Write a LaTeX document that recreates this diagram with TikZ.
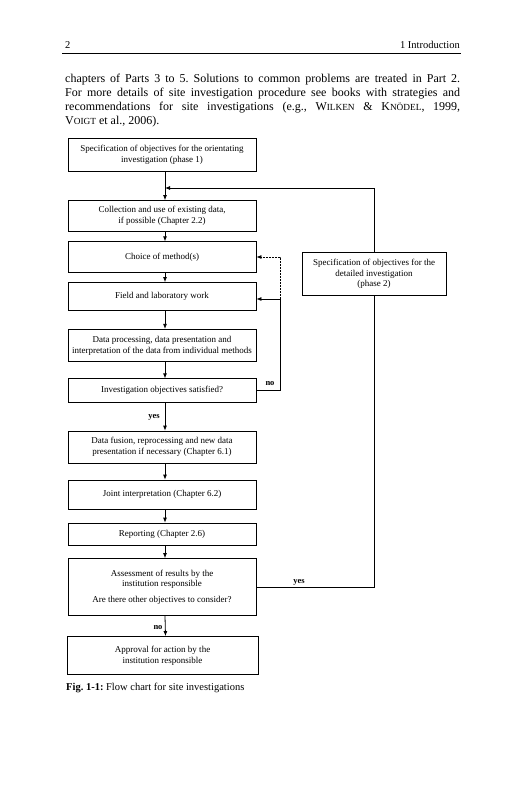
\documentclass[tikz,border=0pt]{standalone}
\usepackage{fontspec}
\setmainfont{Liberation Serif}
\usetikzlibrary{arrows.meta,calc}
\frenchspacing
\newcommand\boxfont{\fontsize{9}{10.7}\selectfont}
\newcommand\lblfont{\fontsize{8.5}{10}\selectfont\bfseries}
\newcommand\bodyfont{\fontsize{12}{14.2}\selectfont}
\newcommand\hdrfont{\fontsize{10.5}{12}\selectfont}
\newcommand\capfont{\fontsize{10.5}{12}\selectfont}
\newcommand\fsc[2]{#1{\fontsize{9.3}{10}\selectfont #2}}
\newcommand\jline[1]{\makebox[395pt][s]{#1}}
\begin{document}
\begin{tikzpicture}[x=1pt,y=-1pt,
  box/.style={draw,line width=0.8pt,minimum width=188pt,inner sep=0pt,align=center,font=\boxfont},
  arr/.style={line width=0.8pt,-{Latex[length=5pt,width=4pt]}},
  conn/.style={line width=0.8pt},
  dashconn/.style={line width=0.8pt,dash pattern=on 2pt off 1pt},
  lbl/.style={font=\lblfont,inner sep=0pt},
  body/.style={font=\bodyfont,inner sep=0pt,anchor=base west}]
\fill[white] (0,0) rectangle (527,800);
\useasboundingbox (0,0) rectangle (527,800);
% header
\node[font=\hdrfont,inner sep=0pt,anchor=base west] (pg) at (65,48.5) {2};
\node[font=\hdrfont,inner sep=0pt,anchor=base east] (hd) at (460,48.5) {1 Introduction};
\coordinate (rl) at (62,53.5);
\coordinate (rr) at (461,53.5);
\draw[line width=0.8pt] (rl) -- (rr);
% body text
\node[body] (t1) at (65,82) {\jline{chapters of Parts 3 to 5. Solutions to common problems are treated in Part 2.}};
\node[body] (t2) at (65,96.2) {\jline{For more details of site investigation procedure see books with strategies and}};
\node[body] (t3) at (65,110.4) {\jline{recommendations for site investigations (e.g., \fsc{W}{ILKEN} \& \fsc{K}{NÖDEL}, 1999,}};
\node[body] (t4) at (65,124.6) {\fsc{V}{OIGT} et al., 2006).};
% boxes
\node[box,minimum height=33pt] (b1) at (162,155) {Specification of objectives for the orientating\\investigation (phase 1)};
\node[box,minimum height=31pt] (b2) at (162,216) {Collection and use of existing data,\\if possible (Chapter 2.2)};
\node[box,minimum height=30.5pt] (b3) at (162,257) {Choice of method(s)};
\node[box,minimum height=28pt] (b4) at (162,296.5) {Field and laboratory work};
\node[box,minimum height=32.5pt] (b5) at (162,345.5) {Data processing, data presentation and\\interpretation of the data from individual methods};
\node[box,minimum height=23.5pt] (b6) at (162,390.5) {Investigation objectives satisfied?};
\node[box,minimum height=32pt] (b7) at (162,447) {Data fusion, reprocessing and new data\\presentation if necessary (Chapter 6.1)};
\node[box,minimum height=29pt] (b8) at (162,494.5) {Joint interpretation (Chapter 6.2)};
\node[box,minimum height=22pt] (b9) at (162,534) {Reporting (Chapter 2.6)};
\node[box,minimum height=57pt] (b10) at (162,587) {Assessment of results by the\\institution responsible\\[5pt]Are there other objectives to consider?};
\node[box,minimum height=38pt,minimum width=191pt] (b11) at (162.5,655.5) {Approval for action by the\\institution responsible};
\node[box,minimum height=43pt,minimum width=144pt] (R) at (374,274) {Specification of objectives for the\\detailed investigation\\(phase 2)};
% main arrows
\foreach \a/\b in {b1/b2,b2/b3,b3/b4,b4/b5,b5/b6,b6/b7,b7/b8,b8/b9,b9/b10,b10/b11}
  \draw[arr] ([xshift=3pt]\a.south) -- ([xshift=3pt]\b.north);
% feedback from phase 2
\coordinate (fb) at (165,188);
\draw[arr] (R.north) |- (fb);
% no loop
\coordinate (j) at (280,299);
\draw[arr] (b6.east) -| (j) -- (b4.east |- j);
\draw[arr,dashconn] (j) |- (b3.east);
% yes to phase 2
\draw[conn] (b10.east) -| (R.south);
% labels
\node[lbl] (lno1) at (270,383.5) {no};
\node[lbl] (lyes1) at (154,417) {yes};
\node[lbl] (lyes2) at (299,582.5) {yes};
\node[lbl] (lno2) at (158,628) {no};
% caption
\node[font=\capfont,inner sep=0pt,anchor=base west] (cap) at (66,690) {\textbf{Fig. 1-1:} Flow chart for site investigations};
\end{tikzpicture}
\end{document}
